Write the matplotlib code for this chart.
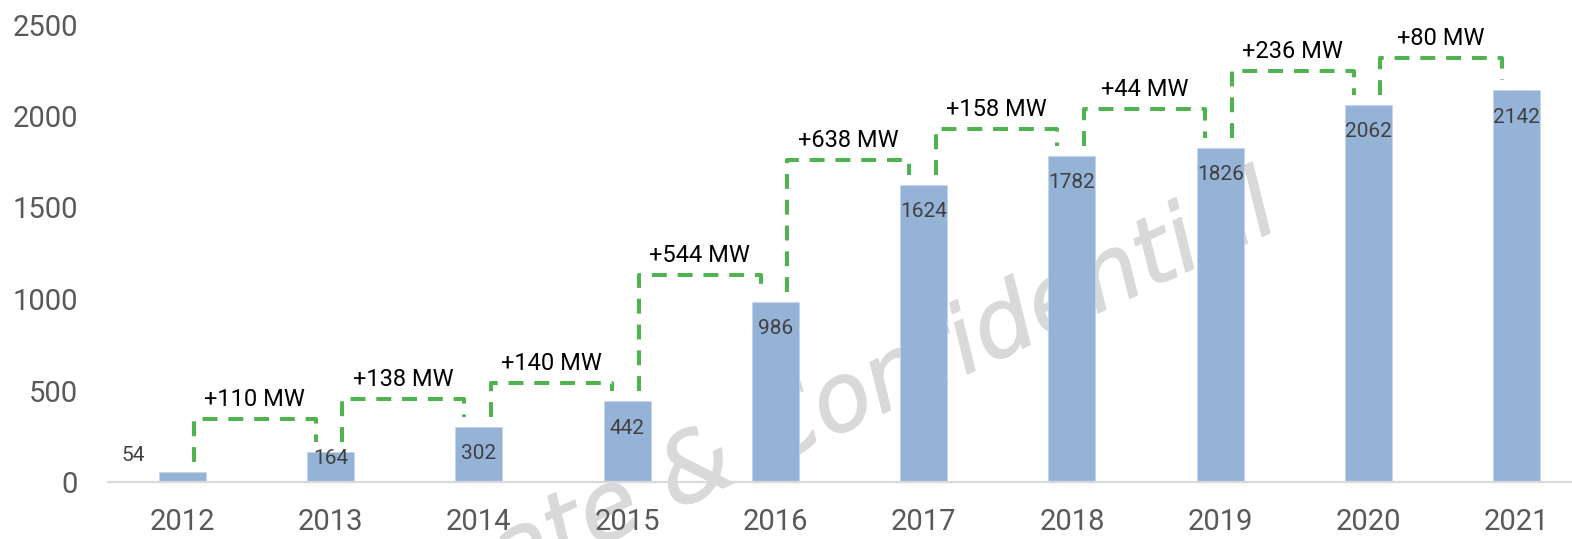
import matplotlib
matplotlib.use('Agg')
import matplotlib.pyplot as plt
import matplotlib.patheffects as pe

# ---- data ----
years = ['2012', '2013', '2014', '2015', '2016', '2017', '2018', '2019', '2020', '2021']
capacity = [54, 164, 302, 442, 986, 1624, 1782, 1826, 2062, 2142]
increments = ['+110 MW', '+138 MW', '+140 MW', '+544 MW', '+638 MW',
              '+158 MW', '+44 MW', '+236 MW', '+80 MW']
bracket_levels = [344, 454, 541, 1131, 1760, 1929, 2038, 2246, 2317]
y_ticks = [0, 500, 1000, 1500, 2000, 2500]
watermark = 'Private & Confidential'

# ---- figure ----
W, H = 1572, 539
fig = plt.figure(figsize=(W / 100, H / 100), dpi=100)
ax_h_px = 457.5
ax = fig.add_axes([108 / W, 57 / H, 1 - 108 / W, ax_h_px / H])
ax.set_ylim(0, 2500)
ax.set_xlim(-0.5, -0.5 + 1464 / 148.3)
px_per_unit = ax_h_px / 2500.0
PT = 0.72  # points per pixel at dpi 100

FONT = ['Roboto', 'DejaVu Sans']

x = list(range(len(years)))
ax.bar(x, capacity, width=0.317, color='#95b3d7', edgecolor='#c5d5ea',
       linewidth=0.6, zorder=2)

# bar value labels
for xi, v in zip(x, capacity):
    h_px = v * px_per_unit
    if h_px < 20:
        ax.annotate(str(v), xy=(xi, v), xytext=(-49 * PT, 17 * PT),
                    textcoords='offset points', ha='center', va='center',
                    fontsize=15, color='#404040', family=FONT, zorder=4)
    else:
        off = min(27, h_px - 23)
        ax.annotate(str(v), xy=(xi, v), xytext=(0, -off * PT),
                    textcoords='offset points', ha='center', va='center',
                    fontsize=15, color='#404040', family=FONT, zorder=4)

# brackets with increments
gap = 10 / px_per_unit
green = '#4fb34f'
for i, (lab, lev) in enumerate(zip(increments, bracket_levels)):
    xl = x[i] + 0.08
    xr = x[i + 1] - 0.1
    ax.plot([xl, xl, xr, xr],
            [capacity[i] + gap, lev, lev, capacity[i + 1] + gap],
            color=green, lw=2.9, dashes=(3.7, 2.7), dash_capstyle='butt',
            solid_joinstyle='miter', zorder=3, clip_on=False)
    ax.annotate(lab, xy=((xl + xr) / 2, lev), xytext=(0, 13 * PT),
                textcoords='offset points', ha='center', va='baseline',
                fontsize=17, color='black', family=FONT, zorder=4)

# axes styling
for s in ['top', 'right', 'left']:
    ax.spines[s].set_visible(False)
ax.spines['bottom'].set_color('#d9d9d9')
ax.spines['bottom'].set_linewidth(1.6)
ax.set_xticks(x)
ax.set_xticklabels(years)
ax.set_yticks(y_ticks)
ax.set_yticklabels([str(t) for t in y_ticks])
ax.tick_params(axis='both', length=0, labelsize=21, labelcolor='#595959')
ax.tick_params(axis='x', pad=19)
ax.tick_params(axis='y', pad=21.6)
for lbl in ax.get_xticklabels() + ax.get_yticklabels():
    lbl.set_family(FONT)

# watermark
wm_color = '#d9d9d9'
ax.text(815 / W, (539 - 445) / H, watermark, transform=fig.transFigure,
        rotation=25, rotation_mode='anchor', ha='center', va='baseline',
        fontsize=68, color=wm_color, style='italic',
        family=['DejaVu Sans'], zorder=1, clip_on=False,
        path_effects=[pe.withStroke(linewidth=1.0, foreground=wm_color)])

fig.savefig('out.png', dpi=100)
